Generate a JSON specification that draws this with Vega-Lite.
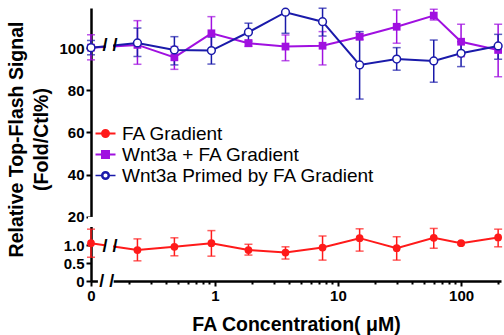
{
  "$schema": "https://vega.github.io/schema/vega-lite/v6.json",
  "width": 410,
  "height": 273,
  "autosize": {"type": "none"},
  "padding": {"left": 91, "top": 8, "right": 3, "bottom": 54},
  "background": "white",
  "config": {
    "view": {"stroke": null},
    "font": "Liberation Sans",
    "axis": {
      "grid": false,
      "labelOverlap": false,
      "labelFlush": false,
      "domainColor": "black",
      "domainWidth": 2.5,
      "tickColor": "black",
      "tickWidth": 2,
      "labelColor": "black",
      "labelFont": "Liberation Sans",
      "labelFontSize": 15,
      "labelFontWeight": "bold",
      "titleColor": "black",
      "titleFont": "Liberation Sans",
      "titleFontSize": 19.5,
      "titleFontWeight": "bold"
    }
  },
  "data": {
    "values": [
      {"conc": 0, "series": "FA Gradient", "mean": 1.05, "lo": 0.66, "hi": 1.44},
      {"conc": 0.234375, "series": "FA Gradient", "mean": 0.86, "lo": 0.56, "hi": 1.17},
      {"conc": 0.46875, "series": "FA Gradient", "mean": 0.95, "lo": 0.70, "hi": 1.20},
      {"conc": 0.9375, "series": "FA Gradient", "mean": 1.05, "lo": 0.69, "hi": 1.40},
      {"conc": 1.875, "series": "FA Gradient", "mean": 0.86, "lo": 0.72, "hi": 1.02},
      {"conc": 3.75, "series": "FA Gradient", "mean": 0.79, "lo": 0.61, "hi": 0.95},
      {"conc": 7.5, "series": "FA Gradient", "mean": 0.93, "lo": 0.58, "hi": 1.25},
      {"conc": 15, "series": "FA Gradient", "mean": 1.19, "lo": 0.83, "hi": 1.45},
      {"conc": 30, "series": "FA Gradient", "mean": 0.91, "lo": 0.58, "hi": 1.23},
      {"conc": 60, "series": "FA Gradient", "mean": 1.20, "lo": 0.91, "hi": 1.46},
      {"conc": 100, "series": "FA Gradient", "mean": 1.05, "lo": 1.01, "hi": 1.08},
      {"conc": 200, "series": "FA Gradient", "mean": 1.21, "lo": 0.95, "hi": 1.44},
      {"conc": 0, "series": "Wnt3a + FA Gradient", "mean": 100.2, "lo": 94.4, "hi": 106.3},
      {"conc": 0.234375, "series": "Wnt3a + FA Gradient", "mean": 101.5, "lo": 92.3, "hi": 113.0},
      {"conc": 0.46875, "series": "Wnt3a + FA Gradient", "mean": 95.6, "lo": 89.9, "hi": 100.7},
      {"conc": 0.9375, "series": "Wnt3a + FA Gradient", "mean": 107.0, "lo": 99.1, "hi": 114.9},
      {"conc": 1.875, "series": "Wnt3a + FA Gradient", "mean": 102.3, "lo": 100.8, "hi": 103.8},
      {"conc": 3.75, "series": "Wnt3a + FA Gradient", "mean": 100.7, "lo": 94.0, "hi": 106.2},
      {"conc": 7.5, "series": "Wnt3a + FA Gradient", "mean": 101.1, "lo": 92.0, "hi": 107.8},
      {"conc": 15, "series": "Wnt3a + FA Gradient", "mean": 105.4, "lo": 104.0, "hi": 106.8},
      {"conc": 30, "series": "Wnt3a + FA Gradient", "mean": 110.1, "lo": 102.3, "hi": 118.1},
      {"conc": 60, "series": "Wnt3a + FA Gradient", "mean": 115.4, "lo": 113.3, "hi": 118.4},
      {"conc": 100, "series": "Wnt3a + FA Gradient", "mean": 103.0, "lo": 95.9, "hi": 111.3},
      {"conc": 200, "series": "Wnt3a + FA Gradient", "mean": 99.1, "lo": 86.4, "hi": 111.3},
      {"conc": 0, "series": "Wnt3a Primed by FA Gradient", "mean": 100.2, "lo": 96.8, "hi": 103.6},
      {"conc": 0.234375, "series": "Wnt3a Primed by FA Gradient", "mean": 102.4, "lo": 96.0, "hi": 109.5},
      {"conc": 0.46875, "series": "Wnt3a Primed by FA Gradient", "mean": 99.1, "lo": 92.0, "hi": 105.4},
      {"conc": 0.9375, "series": "Wnt3a Primed by FA Gradient", "mean": 98.8, "lo": 92.4, "hi": 105.2},
      {"conc": 1.875, "series": "Wnt3a Primed by FA Gradient", "mean": 107.5, "lo": 103.1, "hi": 111.8},
      {"conc": 3.75, "series": "Wnt3a Primed by FA Gradient", "mean": 117.0, "lo": 107.0, "hi": 117.0},
      {"conc": 7.5, "series": "Wnt3a Primed by FA Gradient", "mean": 112.5, "lo": 105.7, "hi": 118.9},
      {"conc": 15, "series": "Wnt3a Primed by FA Gradient", "mean": 92.0, "lo": 75.8, "hi": 107.8},
      {"conc": 30, "series": "Wnt3a Primed by FA Gradient", "mean": 94.8, "lo": 89.5, "hi": 100.2},
      {"conc": 60, "series": "Wnt3a Primed by FA Gradient", "mean": 93.9, "lo": 83.8, "hi": 103.8},
      {"conc": 100, "series": "Wnt3a Primed by FA Gradient", "mean": 97.5, "lo": 91.2, "hi": 103.0},
      {"conc": 200, "series": "Wnt3a Primed by FA Gradient", "mean": 101.0, "lo": 94.7, "hi": 106.5}
    ]
  },
  "layer": [
    {
      "data": {"values": [{}]},
      "mark": {"type": "rule", "color": "white", "strokeWidth": 6},
      "encoding": {"x": {"datum": 0, "type": "quantitative"}, "y": {"datum": 1.5, "type": "quantitative"}, "y2": {"datum": 19.6}}
    },
    {
      "data": {"values": [{}]},
      "mark": {"type": "rule", "color": "white", "strokeWidth": 6},
      "encoding": {"x": {"datum": 0.0036, "type": "quantitative"}, "x2": {"datum": 0.15}, "y": {"datum": 0, "type": "quantitative"}}
    },
    {
      "mark": {"type": "errorbar", "ticks": {"size": 8, "thickness": 1.5}, "thickness": 1.5},
      "encoding": {
        "x": {
          "field": "conc", "type": "quantitative",
          "scale": {"type": "symlog", "constant": 0.001, "domain": [0, 0.15, 211], "range": [0, 22.7, 410], "nice": false, "zero": false},
          "axis": {
            "title": "FA Concentration( μM)",
            "values": [0, 0.2, 0.3, 0.4, 0.5, 0.6, 0.7, 0.8, 0.9, 1, 2, 3, 4, 5, 6, 7, 8, 9, 10, 20, 30, 40, 50, 60, 70, 80, 90, 100, 200],
            "tickCount": 100,
            "labelExpr": "indexof([0, 1, 10, 100], datum.value) >= 0 ? format(datum.value, 'd') : ''",
            "tickSize": {"condition": {"test": "indexof([0, 1, 10, 100], datum.value) >= 0", "value": 5}, "value": 3},
            "labelPadding": 2,
            "labelOverlap": false,
            "labelFlush": false,
            "titlePadding": 12,
            "zindex": 0
          }
        },
        "y": {
          "field": "lo", "type": "quantitative",
          "scale": {"domain": [0, 1.5, 20, 119], "range": [273, 219, 208.7, 0], "nice": false, "zero": false},
          "axis": {
            "title": ["Relative Top-Flash Signal", "(Fold/Ctl%)"],
            "values": [0, 0.5, 1, 20, 40, 60, 80, 100],
            "tickCount": 100,
            "labelExpr": "datum.value > 0 && datum.value < 2 ? format(datum.value, '.1f') : format(datum.value, 'd')",
            "tickSize": 5,
            "labelPadding": 2,
            "labelOverlap": false,
            "labelFlush": false,
            "titlePadding": 7,
            "titleLineHeight": 25,
            "titleY": 131,
            "zindex": 0
          }
        },
        "y2": {"field": "hi"},
        "color": {
          "field": "series", "type": "nominal",
          "scale": {"domain": ["FA Gradient", "Wnt3a + FA Gradient", "Wnt3a Primed by FA Gradient"], "range": ["#ff1a1a", "#a010e0", "#1a1aaa"]},
          "legend": {
            "orient": "none", "legendX": 5, "legendY": 116, "title": null,
            "labelFont": "Liberation Sans", "labelFontSize": 19, "labelColor": "black", "labelLimit": 400,
            "symbolSize": 400, "symbolStrokeWidth": 2, "labelOffset": 7, "rowPadding": 1,
            "encode": {
              "symbols": {
                "update": {
                  "shape": {"signal": "datum.value === 'Wnt3a + FA Gradient' ? 'M-1,0H-0.35M0.35,0H1M-0.35,-0.35H0.35V0.35H-0.35Z' : datum.value === 'FA Gradient' ? 'M-1,0H-0.35M0.35,0H1M-0.35,0A0.35,0.35,0,1,1,0.35,0A0.35,0.35,0,1,1,-0.35,0Z' : 'M-1,0H-0.38M0.38,0H1M-0.38,0A0.38,0.38,0,1,1,0.38,0A0.38,0.38,0,1,1,-0.38,0ZM-0.28,0A0.28,0.28,0,1,0,0.28,0A0.28,0.28,0,1,0,-0.28,0Z'"},
                  "fill": {"signal": "datum.value === 'FA Gradient' ? '#ff1a1a' : datum.value === 'Wnt3a + FA Gradient' ? '#a010e0' : '#1a1aaa'"},
                  "stroke": {"signal": "datum.value === 'FA Gradient' ? '#ff1a1a' : datum.value === 'Wnt3a + FA Gradient' ? '#a010e0' : '#1a1aaa'"},
                  "strokeWidth": {"signal": "datum.value === 'Wnt3a Primed by FA Gradient' ? 1.5 : 2"},
                  "size": {"value": 400},
                  "opacity": {"value": 1},
                  "fillOpacity": {"value": 1},
                  "strokeOpacity": {"value": 1}
                }
              }
            }
          }
        }
      }
    },
    {
      "mark": {"type": "line", "strokeWidth": 2},
      "encoding": {
        "x": {"field": "conc", "type": "quantitative"},
        "y": {"field": "mean", "type": "quantitative"},
        "color": {"field": "series", "type": "nominal"}
      }
    },
    {
      "transform": [{"filter": "datum.series === 'FA Gradient'"}],
      "mark": {"type": "point", "shape": "circle", "filled": true, "size": 60, "opacity": 1},
      "encoding": {
        "x": {"field": "conc", "type": "quantitative"},
        "y": {"field": "mean", "type": "quantitative"},
        "color": {"field": "series", "type": "nominal"}
      }
    },
    {
      "transform": [{"filter": "datum.series === 'Wnt3a + FA Gradient'"}],
      "mark": {"type": "point", "shape": "square", "filled": true, "size": 60, "opacity": 1},
      "encoding": {
        "x": {"field": "conc", "type": "quantitative"},
        "y": {"field": "mean", "type": "quantitative"},
        "color": {"field": "series", "type": "nominal"}
      }
    },
    {
      "transform": [{"filter": "datum.series === 'Wnt3a Primed by FA Gradient'"}],
      "mark": {"type": "point", "shape": "circle", "filled": false, "fill": "white", "fillOpacity": 1, "size": 60, "strokeWidth": 1.5, "opacity": 1},
      "encoding": {
        "x": {"field": "conc", "type": "quantitative"},
        "y": {"field": "mean", "type": "quantitative"},
        "color": {"field": "series", "type": "nominal"}
      }
    },
    {
      "data": {"values": [{}]},
      "mark": {"type": "rule", "color": "white", "strokeWidth": 7},
      "encoding": {"x": {"datum": 0.0265, "type": "quantitative"}, "x2": {"datum": 0.128}, "y": {"datum": 101.1, "type": "quantitative"}}
    },
    {
      "data": {"values": [{}]},
      "mark": {"type": "rule", "color": "white", "strokeWidth": 5},
      "encoding": {"x": {"datum": 0.0265, "type": "quantitative"}, "x2": {"datum": 0.128}, "y": {"datum": 0.97, "type": "quantitative"}}
    },
    {
      "data": {"values": [{}]},
      "mark": {"type": "text", "text": "/ /", "font": "Liberation Sans", "fontSize": 18, "fontWeight": "bold", "color": "black", "align": "center", "baseline": "middle", "dy": 1},
      "encoding": {"x": {"datum": 0.031, "type": "quantitative"}, "y": {"datum": 0, "type": "quantitative"}}
    },
    {
      "data": {"values": [{}]},
      "mark": {"type": "text", "text": "/ /", "font": "Liberation Sans", "fontSize": 18, "fontWeight": "bold", "color": "black", "align": "center", "baseline": "middle"},
      "encoding": {"x": {"datum": 0.0656, "type": "quantitative"}, "y": {"datum": 100.9, "type": "quantitative"}}
    },
    {
      "data": {"values": [{}]},
      "mark": {"type": "text", "text": "/ /", "font": "Liberation Sans", "fontSize": 18, "fontWeight": "bold", "color": "black", "align": "center", "baseline": "middle"},
      "encoding": {"x": {"datum": 0.0656, "type": "quantitative"}, "y": {"datum": 0.95, "type": "quantitative"}}
    }
  ]
}
